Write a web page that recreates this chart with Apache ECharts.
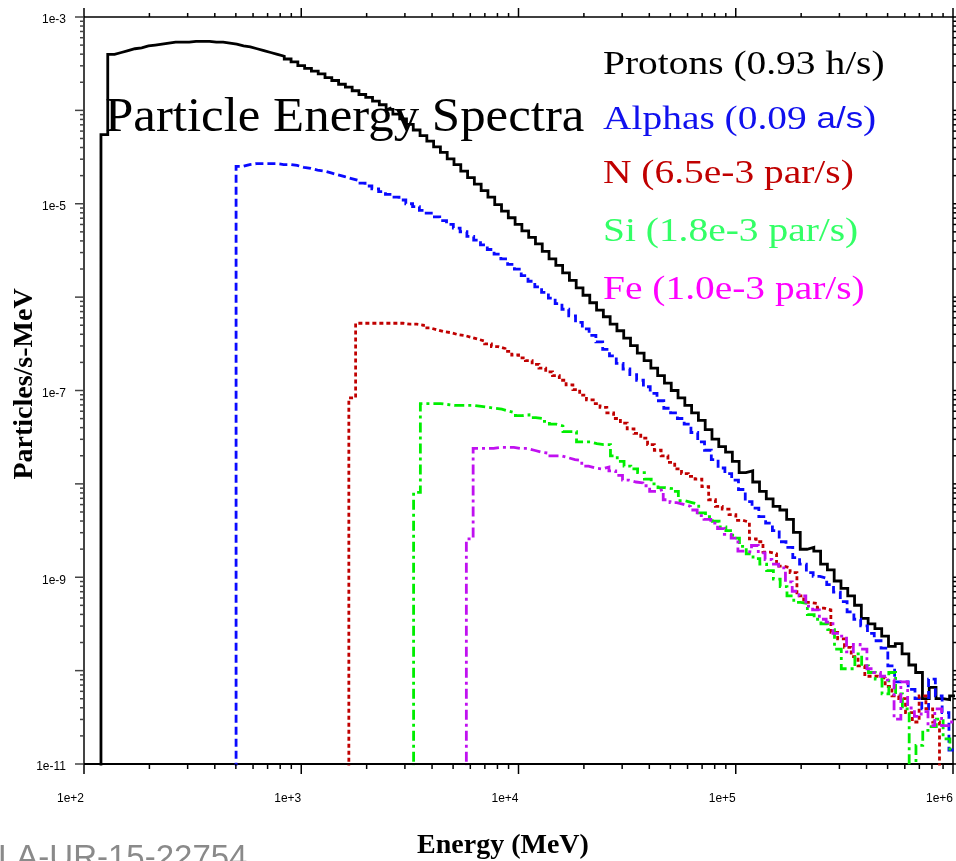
<!DOCTYPE html>
<html>
<head>
<meta charset="utf-8">
<title>Particle Energy Spectra</title>
<script src="https://cdn.jsdelivr.net/npm/echarts@6/dist/echarts.min.js"></script>
<style>
  html, body { margin: 0; padding: 0; background: #ffffff; }
  #chart { width: 956px; height: 861px; }
</style>
</head>
<body>
<div id="chart"></div>
<script>
// Histogram binning: 32 logarithmic bins per decade of energy.
const BIN_DEC = 1 / 32;
// Value used for empty bins (below the plotted range, so the step drops to the axis).
const FLOOR = 1e-13;

// Lower edge of the first bin of each species (MeV).
const protonStart = 119.7;
const alphaStart = 501.2;
const nitrogenStart = 1656;
const siliconStart = 3289;
const ironStart = 5754;

// log10(particles / s-MeV) per bin; null = empty bin.
const protonLog = [
  -4.26,
  -3.40, -3.38, -3.36, -3.34, -3.33, -3.31, -3.30, -3.29, -3.28, -3.27,
  -3.27, -3.27, -3.26, -3.26, -3.26, -3.27, -3.27, -3.28, -3.29, -3.31,
  -3.32, -3.34, -3.36, -3.38, -3.40, -3.42, -3.45, -3.48, -3.52, -3.55,
  -3.58, -3.61, -3.65, -3.68, -3.72, -3.75, -3.79, -3.83, -3.86, -3.90,
  -3.94, -3.99, -4.04, -4.09, -4.15, -4.21, -4.27, -4.33, -4.39, -4.45,
  -4.52, -4.58, -4.65, -4.72, -4.79, -4.86, -4.93, -5.01, -5.08, -5.15,
  -5.22, -5.29, -5.36, -5.43, -5.51, -5.59, -5.66, -5.74, -5.82, -5.90,
  -5.98, -6.06, -6.14, -6.21, -6.29, -6.36, -6.44, -6.52, -6.60, -6.68,
  -6.76, -6.84, -6.92, -7.00, -7.08, -7.16, -7.24, -7.32, -7.42, -7.52,
  -7.60, -7.66, -7.76, -7.88, -7.86, -7.98, -8.08, -8.16, -8.24, -8.28,
  -8.38, -8.52, -8.70, -8.68, -8.72, -8.86, -8.92, -9.04, -9.12, -9.20,
  -9.30, -9.44, -9.50, -9.55, -9.63, -9.74, -9.71, -9.82, -9.94, -10.02,
  -10.30, -10.18, -10.30, -10.31, -10.27
];

const alphaLog = [
  -4.60, -4.58, -4.57, -4.57, -4.57, -4.57, -4.58, -4.58, -4.59, -4.61,
  -4.62, -4.64, -4.65, -4.67, -4.69, -4.71, -4.73, -4.75, -4.78, -4.81,
  -4.84, -4.87, -4.90, -4.93, -4.96, -5.00, -5.03, -5.07, -5.10, -5.14,
  -5.18, -5.22, -5.26, -5.30, -5.35, -5.39, -5.44, -5.49, -5.54, -5.59,
  -5.65, -5.70, -5.77, -5.83, -5.89, -5.95, -6.01, -6.07, -6.13, -6.20,
  -6.27, -6.34, -6.41, -6.48, -6.56, -6.63, -6.71, -6.77, -6.83, -6.89,
  -6.96, -7.03, -7.11, -7.19, -7.24, -7.30, -7.36, -7.45, -7.55, -7.64,
  -7.74, -7.83, -7.89, -7.96, -8.06, -8.19, -8.26, -8.35, -8.42, -8.50,
  -8.62, -8.68, -8.79, -8.86, -8.95, -8.99, -9.01, -9.08, -9.16, -9.26,
  -9.37, -9.45, -9.52, -9.60, -9.68, -9.76, -9.95, -10.12, -10.12, -10.20,
  -10.30, -10.41, -10.09, -10.27, -10.45, -10.85
];

const nitrogenLog = [
  -7.08, -6.28, -6.28, -6.28, -6.28, -6.28, -6.28, -6.28, -6.29, -6.29,
  -6.30, -6.33, -6.35, -6.37, -6.38, -6.40, -6.41, -6.43, -6.45, -6.47,
  -6.50, -6.53, -6.55, -6.58, -6.62, -6.65, -6.68, -6.72, -6.76, -6.80,
  -6.84, -6.89, -6.94, -6.99, -7.05, -7.10, -7.14, -7.18, -7.24, -7.30,
  -7.35, -7.41, -7.46, -7.51, -7.58, -7.64, -7.70, -7.77, -7.84, -7.89,
  -7.92, -7.95, -8.03, -8.17, -8.24, -8.27, -8.33, -8.39, -8.41, -8.59,
  -8.62, -8.73, -8.75, -8.88, -8.90, -8.95, -9.20, -9.27, -9.28, -9.33,
  -9.35, -9.59, -9.66, -9.75, -9.85, -9.95, -10.06, -10.06, -10.08, -10.17,
  -10.27, -10.30, -10.45, -10.55, -10.27, -10.41, -10.55, null, null
];

const siliconLog = [
  -8.09, -7.14, -7.14, -7.14, -7.15, -7.16, -7.16, -7.16, -7.16, -7.17,
  -7.18, -7.19, -7.20, -7.22, -7.24, -7.27, -7.26, -7.29, -7.30, -7.33,
  -7.36, -7.38, -7.44, -7.44, -7.55, -7.55, -7.57, -7.58, -7.58, -7.70,
  -7.76, -7.81, -7.84, -7.88, -7.95, -8.00, -8.04, -8.05, -8.08, -8.18,
  -8.20, -8.22, -8.31, -8.35, -8.40, -8.46, -8.50, -8.58, -8.67, -8.75,
  -8.80, -8.86, -8.93, -9.02, -9.10, -9.20, -9.27, -9.28, -9.40, -9.45,
  -9.50, -9.56, -9.77, -9.98, -9.98, -9.82, -9.95, -10.02, -10.09, -10.25,
  -10.02, -10.25, -10.41, null, -10.80, -10.64, -10.60, -10.52, -10.73, -10.84
];

const ironLog = [
  -8.59, -7.62, -7.62, -7.62, -7.61, -7.61, -7.61, -7.62, -7.62, -7.64,
  -7.66, -7.67, -7.70, -7.70, -7.72, -7.74, -7.75, -7.81, -7.83, -7.84,
  -7.82, -7.86, -7.91, -7.96, -7.98, -7.99, -8.02, -8.08, -8.06, -8.17,
  -8.20, -8.22, -8.24, -8.28, -8.34, -8.38, -8.42, -8.48, -8.54, -8.58,
  -8.72, -8.73, -8.66, -8.74, -8.81, -8.86, -8.90, -9.05, -9.15, -9.20,
  -9.31, -9.35, -9.45, -9.48, -9.60, -9.63, -9.80, -9.72, -9.77, -9.98,
  -10.02, -10.06, -10.10, -10.52, -10.12, -10.40, -10.49, -10.44, -10.59, -10.41,
  -10.59, -10.55
];

// Legend lines shown in the upper right of the plot.
const legendNames = ['Protons', 'Alphas', 'N', 'Si', 'Fe'];
const legendRates = ['(0.93 h/s)', '(0.09 a/s)', '(6.5e-3 par/s)', '(1.8e-3 par/s)', '(1.0e-3 par/s)'];

// Axis ranges, tick decades and labelled decades.
const xMin = 1e2, xMax = 1e6;
const yMin = 1e-11, yMax = 1e-3;
const xDecades = [2, 3, 4, 5, 6];
const yDecades = [-11, -10, -9, -8, -7, -6, -5, -4, -3];
const yLabelDecades = [-11, -9, -7, -5, -3];

// Turn per-bin values into the corner points of a step outline.
function stepPoints(startE, logVals) {
  const pts = [[startE, FLOOR]];
  for (let k = 0; k < logVals.length; k++) {
    const lo = startE * Math.pow(10, k * BIN_DEC);
    const hi = startE * Math.pow(10, (k + 1) * BIN_DEC);
    const v = logVals[k] === null ? FLOOR : Math.pow(10, logVals[k]);
    pts.push([lo, v], [hi, v]);
  }
  return pts;
}

function expLabel(v) {
  const e = Math.round(Math.log10(v));
  return '1e' + (e >= 0 ? '+' : '-') + Math.abs(e);
}

const chart = echarts.init(document.getElementById('chart'), null, { renderer: 'canvas' });

const GRID = { left: 84, right: 3, top: 17, bottom: 97 };

const lineSeries = (name, data, color, dash, width) => ({
  name: name,
  type: 'line',
  data: data,
  showSymbol: false,
  symbol: 'none',
  clip: true,
  silent: true,
  animation: false,
  lineStyle: { color: color, width: width, type: dash, cap: 'butt', join: 'miter' }
});

const option = {
  backgroundColor: '#ffffff',
  animation: false,
  grid: Object.assign({ containLabel: false, outerBoundsMode: 'none' }, GRID),
  xAxis: [
    {
      type: 'log', logBase: 10, min: xMin, max: xMax, position: 'bottom', splitNumber: 4,
      axisLine: { show: true, lineStyle: { color: '#000', width: 2 } },
      axisTick: { show: false },
      splitLine: { show: false },
      axisLabel: {
        show: true, formatter: expLabel, align: 'right', margin: 29,
        fontFamily: 'Liberation Sans', fontSize: 12, color: '#000',
        showMinLabel: true, showMaxLabel: true
      }
    },
    {
      type: 'log', logBase: 10, min: xMin, max: xMax, position: 'top',
      axisLine: { show: true, onZero: false, lineStyle: { color: '#000', width: 1.5 } },
      axisTick: { show: false }, axisLabel: { show: false }, splitLine: { show: false }
    }
  ],
  yAxis: [
    {
      type: 'log', logBase: 10, min: yMin, max: yMax, position: 'left',
      axisLine: { show: true, lineStyle: { color: '#444', width: 2 } },
      axisTick: { show: false }, axisLabel: { show: false }, splitLine: { show: false }
    },
    {
      type: 'log', logBase: 10, min: yMin, max: yMax, position: 'right',
      axisLine: { show: true, onZero: false, lineStyle: { color: '#000', width: 1.5 } },
      axisTick: { show: false }, axisLabel: { show: false }, splitLine: { show: false }
    }
  ],
  series: [
    lineSeries('Protons', stepPoints(protonStart, protonLog), '#000000', 'solid', 2.8),
    lineSeries('Alphas', stepPoints(alphaStart, alphaLog), '#0a0aff', [8, 4], 2.8),
    lineSeries('N', stepPoints(nitrogenStart, nitrogenLog), '#c00000', [4, 3], 2.8),
    lineSeries('Si', stepPoints(siliconStart, siliconLog), '#00ee00', [10, 4, 3, 4], 2.8),
    lineSeries('Fe', stepPoints(ironStart, ironLog), '#c010f0', [10, 4, 3, 4], 2.8)
  ]
};

chart.setOption(option);

// Log-axis tick marks (decades long, 2..9 short) placed through the axes' own scales.
const px = v => chart.convertToPixel({ xAxisIndex: 0 }, v);
const py = v => chart.convertToPixel({ yAxisIndex: 0 }, v);
const gx0 = px(xMin), gx1 = px(xMax);
const gy0 = py(yMin), gy1 = py(yMax);

const ticks = [];
function tick(x1, y1, x2, y2, color) {
  ticks.push({
    type: 'line', silent: true, z: 50,
    shape: { x1: x1, y1: y1, x2: x2, y2: y2 },
    style: { stroke: color, lineWidth: 1.5 }
  });
}
xDecades.forEach((d, i) => {
  const mults = i === xDecades.length - 1 ? [1] : [1, 2, 3, 4, 5, 6, 7, 8, 9];
  mults.forEach(m => {
    const x = px(m * Math.pow(10, d));
    const major = m === 1;
    tick(x, gy0, x, gy0 + (major ? 10 : 5), '#000');
    tick(x, gy1, x, gy1 - (major ? 9 : 4), '#000');
  });
});
yDecades.forEach((d, i) => {
  const mults = i === yDecades.length - 1 ? [1] : [1, 2, 3, 4, 5, 6, 7, 8, 9];
  mults.forEach(m => {
    const y = py(m * Math.pow(10, d));
    const major = m === 1;
    tick(gx0, y, gx0 - (major ? 9 : 4), y, '#444');
    tick(gx1, y, gx1 + (major ? 9 : 4), y, '#000');
  });
});

const SERIF = '"Liberation Serif", "Times New Roman", serif';
const SANS = '"Liberation Sans", Arial, sans-serif';
const legendColors = ['#000000', '#1010ee', '#c00000', '#33ff66', '#ff00ff'];
const legendY = [65, 120, 174, 232, 290];

const texts = [];
// Y tick labels every second decade
yLabelDecades.forEach(d => {
  const v = Math.pow(10, d);
  texts.push({
    type: 'text', z: 100, silent: true, x: gx0 - 18, y: py(v) + 3,
    style: { text: expLabel(v), font: '12px ' + SANS, fill: '#000', textAlign: 'right', textVerticalAlign: 'middle' }
  });
});
// Title inside the plot area
texts.push({
  type: 'text', z: 100, silent: true, x: 105, y: 118, scaleX: 1.06,
  style: { text: 'Particle Energy Spectra', font: '48px ' + SERIF, fill: '#000', textAlign: 'left', textVerticalAlign: 'middle' }
});
// Legend
legendNames.forEach((name, i) => {
  const el = {
    type: 'text', z: 100, silent: true, x: 603, y: legendY[i], scaleX: 1.16,
    style: { font: '34px ' + SERIF, fill: legendColors[i], textAlign: 'left', textVerticalAlign: 'middle' }
  };
  if (name === 'Alphas') {
    const parts = legendRates[i].match(/^\((\S+) (\S+)\)$/);
    el.style.text = '{s|' + name + ' (' + parts[1] + ' }{a|' + parts[2] + '}{s|)}';
    el.style.rich = {
      s: { font: '34px ' + SERIF, fill: legendColors[i] },
      a: { font: '30px ' + SANS, fill: legendColors[i] }
    };
  } else {
    el.style.text = name + ' ' + legendRates[i];
  }
  texts.push(el);
});
// Axis titles
texts.push({
  type: 'text', z: 100, silent: true, x: 503, y: 846,
  style: { text: 'Energy (MeV)', font: 'bold 28px ' + SERIF, fill: '#000', textAlign: 'center', textVerticalAlign: 'middle' }
});
texts.push({
  type: 'text', z: 100, silent: true, x: 25, y: 384, rotation: Math.PI / 2,
  style: { text: 'Particles/s-MeV', font: 'bold 28px ' + SERIF, fill: '#000', textAlign: 'center', textVerticalAlign: 'middle' }
});
// Document number along the bottom edge
texts.push({
  type: 'text', z: 100, silent: true, x: -2, y: 859,
  style: { text: 'LA-UR-15-22754', font: '33px ' + SANS, fill: '#8a8a8a', textAlign: 'left', textVerticalAlign: 'middle' }
});

chart.setOption({ graphic: { elements: ticks.concat(texts) } });
</script>
</body>
</html>
